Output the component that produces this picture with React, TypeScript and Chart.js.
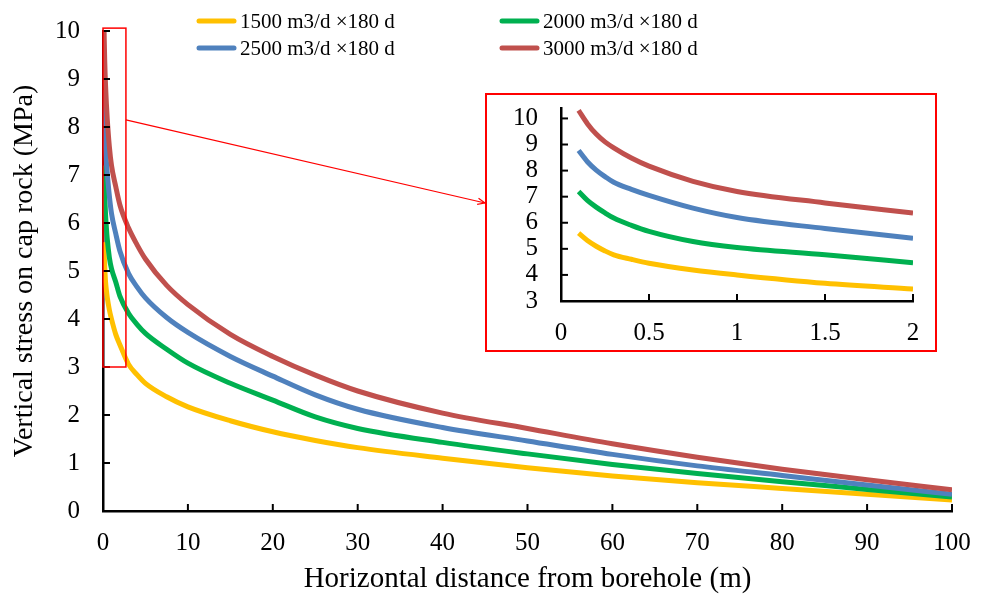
import React, { useEffect, useRef } from "react";
import { Chart, registerables } from "chart.js";

Chart.register(...registerables);

// ---- data ----
const DISTANCE = [0.1, 0.15, 0.2, 0.25, 0.3, 0.4, 0.5, 0.75, 1, 1.5, 2, 3, 4, 5, 7.5, 10, 15, 20, 25, 30, 40, 50, 60, 70, 80, 90, 100];
const STRESS_1500 = [5.6, 5.32, 5.1, 4.92, 4.77, 4.6, 4.45, 4.19, 4.0, 3.68, 3.46, 3.06, 2.84, 2.66, 2.38, 2.17, 1.88, 1.65, 1.47, 1.32, 1.1, 0.9, 0.73, 0.59, 0.47, 0.35, 0.23];
const STRESS_2000 = [7.2, 6.86, 6.6, 6.38, 6.18, 5.9, 5.67, 5.28, 5.05, 4.77, 4.47, 4.12, 3.89, 3.7, 3.37, 3.08, 2.66, 2.31, 1.96, 1.72, 1.43, 1.19, 0.97, 0.78, 0.61, 0.45, 0.29];
const STRESS_2500 = [8.77, 8.34, 8.02, 7.77, 7.55, 7.28, 7.05, 6.56, 6.2, 5.78, 5.41, 4.95, 4.67, 4.44, 4.03, 3.72, 3.22, 2.81, 2.42, 2.12, 1.74, 1.46, 1.18, 0.94, 0.74, 0.54, 0.35];
const STRESS_3000 = [10.31, 9.8, 9.4, 9.1, 8.87, 8.48, 8.17, 7.59, 7.2, 6.76, 6.37, 5.9, 5.55, 5.25, 4.7, 4.3, 3.68, 3.22, 2.83, 2.5, 2.04, 1.72, 1.4, 1.12, 0.87, 0.65, 0.44];
const SERIES_LABELS = ["1500 m3/d ×180 d", "2000 m3/d ×180 d", "2500 m3/d ×180 d", "3000 m3/d ×180 d"];
const SERIES_VALUES = [STRESS_1500, STRESS_2000, STRESS_2500, STRESS_3000];
const SERIES_COLORS = ["#FFC000", "#00B050", "#4F81BD", "#C0504D"];

const X_TITLE = "Horizontal distance from borehole (m)";
const Y_TITLE = "Vertical stress on cap rock (MPa)";

const INSET_X_MAX = 2;
const ZOOM_REGION = { x0: 0, x1: 2.7, y0: 3, y1: 10.06 };
const ARROW_FROM_Y = 8.15;

// ---- layout ----
const FONT = '"Liberation Serif", "Times New Roman", serif';
const INSET_BOX = { left: 485, top: 93, width: 452, height: 259 };
const ARROW_END_Y = 203;
const LEGEND_COLS = [197, 500];
const LEGEND_ROWS = [21, 48];

const insideTicks = {
  id: "insideTicks",
  afterDraw(chart: any) {
    const { ctx, chartArea, scales } = chart;
    const x = scales.x;
    const y = scales.y;
    ctx.save();
    ctx.strokeStyle = "#000";
    ctx.lineWidth = 2;
    x.ticks.forEach((t: any) => {
      if (t.value === x.min) return;
      const px = x.getPixelForValue(t.value);
      ctx.beginPath();
      ctx.moveTo(px, chartArea.bottom);
      ctx.lineTo(px, chartArea.bottom - 7);
      ctx.stroke();
    });
    y.ticks.forEach((t: any) => {
      if (t.value === y.min) return;
      const py = y.getPixelForValue(t.value);
      ctx.beginPath();
      ctx.moveTo(chartArea.left, py);
      ctx.lineTo(chartArea.left + 7, py);
      ctx.stroke();
    });
    ctx.restore();
  },
};

const zoomMarker = {
  id: "zoomMarker",
  afterDraw(chart: any) {
    const { ctx, scales } = chart;
    const x = scales.x;
    const y = scales.y;
    const l = x.getPixelForValue(ZOOM_REGION.x0);
    const r = x.getPixelForValue(ZOOM_REGION.x1);
    const t = y.getPixelForValue(ZOOM_REGION.y1);
    const b = y.getPixelForValue(ZOOM_REGION.y0);
    ctx.save();
    ctx.strokeStyle = "#FF0000";
    ctx.lineWidth = 1.5;
    ctx.strokeRect(l, t, r - l, b - t);
    const sx = r;
    const sy = y.getPixelForValue(ARROW_FROM_Y);
    const ex = INSET_BOX.left;
    const ey = ARROW_END_Y;
    ctx.lineWidth = 1.2;
    ctx.beginPath();
    ctx.moveTo(sx, sy);
    ctx.lineTo(ex, ey);
    ctx.stroke();
    const ang = Math.atan2(ey - sy, ex - sx);
    ctx.beginPath();
    ctx.moveTo(ex, ey);
    ctx.lineTo(ex - 8 * Math.cos(ang - 0.4), ey - 8 * Math.sin(ang - 0.4));
    ctx.moveTo(ex, ey);
    ctx.lineTo(ex - 8 * Math.cos(ang + 0.4), ey - 8 * Math.sin(ang + 0.4));
    ctx.stroke();
    ctx.restore();
  },
};

const customLegend = {
  id: "customLegend",
  afterDraw(chart: any) {
    const { ctx } = chart;
    ctx.save();
    chart.data.datasets.forEach((ds: any, i: number) => {
      const x0 = LEGEND_COLS[i % 2];
      const yy = LEGEND_ROWS[Math.floor(i / 2)];
      ctx.strokeStyle = ds.borderColor;
      ctx.lineWidth = 5;
      ctx.lineCap = "round";
      ctx.beginPath();
      ctx.moveTo(x0 + 2, yy);
      ctx.lineTo(x0 + 37, yy);
      ctx.stroke();
      ctx.fillStyle = "#000";
      ctx.font = `21px ${FONT}`;
      ctx.textAlign = "left";
      ctx.textBaseline = "middle";
      ctx.fillText(ds.label, x0 + 43, yy + 1);
    });
    ctx.restore();
  },
};

function makeDatasets(maxX: number) {
  return SERIES_VALUES.map((vals, i) => ({
    label: SERIES_LABELS[i],
    data: DISTANCE.map((d, j) => ({ x: d, y: vals[j] })).filter((p) => p.x <= maxX),
    borderColor: SERIES_COLORS[i],
    backgroundColor: SERIES_COLORS[i],
    borderWidth: 5,
    pointRadius: 0,
    fill: false,
    cubicInterpolationMode: "monotone" as const,
    order: SERIES_VALUES.length - i,
  }));
}

const tickFont = { family: FONT, size: 25 };
const fitHeight = (h: number) => (s: any) => {
  s.height = h;
  s.paddingLeft = 0;
  s.paddingRight = 0;
};
const fitWidth = (w: number) => (s: any) => {
  s.width = w;
  s.paddingTop = 0;
  s.paddingBottom = 0;
};

export default function App() {
  const mainRef = useRef<HTMLCanvasElement>(null);
  const insetRef = useRef<HTMLCanvasElement>(null);

  useEffect(() => {
    const main = new Chart(mainRef.current as HTMLCanvasElement, {
      type: "line",
      data: { datasets: makeDatasets(Infinity) as any },
      options: {
        responsive: false,
        animation: false,
        layout: { padding: { left: 0, right: 36, top: 31, bottom: 0 } },
        plugins: { legend: { display: false }, tooltip: { enabled: false } },
        scales: {
          x: {
            type: "linear",
            min: 0,
            max: 100,
            ticks: { stepSize: 10, padding: 17, color: "#000", font: tickFont, maxRotation: 0, autoSkip: false },
            grid: { drawOnChartArea: false, drawTicks: false },
            border: { display: true, color: "#000", width: 2.5 },
            title: { display: true, text: X_TITLE, color: "#000", font: { family: FONT, size: 29 }, padding: { top: 1, bottom: 0 } },
            afterFit: fitHeight(86),
          },
          y: {
            type: "linear",
            min: 0,
            max: 10,
            ticks: { stepSize: 1, padding: 23, color: "#000", font: tickFont, autoSkip: false },
            grid: { drawOnChartArea: false, drawTicks: false },
            border: { display: true, color: "#000", width: 2.5 },
            title: { display: true, text: Y_TITLE, color: "#000", font: { family: FONT, size: 28 }, padding: { top: 8, bottom: 0 } },
            afterFit: fitWidth(103),
          },
        },
      } as any,
      plugins: [insideTicks, zoomMarker, customLegend],
    });

    const inset = new Chart(insetRef.current as HTMLCanvasElement, {
      type: "line",
      data: { datasets: makeDatasets(INSET_X_MAX) as any },
      options: {
        responsive: false,
        animation: false,
        layout: { padding: { left: 0, right: 22, top: 13, bottom: 0 } },
        plugins: { legend: { display: false }, tooltip: { enabled: false } },
        scales: {
          x: {
            type: "linear",
            min: 0,
            max: INSET_X_MAX,
            ticks: {
              stepSize: 0.5,
              padding: 17,
              color: "#000",
              font: tickFont,
              maxRotation: 0,
              autoSkip: false,
              callback: (v: any) => String(Number(v)),
            },
            grid: { drawOnChartArea: false, drawTicks: false },
            border: { display: true, color: "#000", width: 2.5 },
            afterFit: fitHeight(49),
          },
          y: {
            type: "linear",
            min: 3,
            max: 10.4,
            ticks: { stepSize: 1, padding: 23, color: "#000", font: tickFont, autoSkip: false, includeBounds: false },
            afterBuildTicks: (s: any) => {
              s.ticks = s.ticks.filter((t: any) => Number.isInteger(t.value));
            },
            grid: { drawOnChartArea: false, drawTicks: false },
            border: { display: true, color: "#000", width: 2.5 },
            afterFit: fitWidth(74),
          },
        },
      } as any,
      plugins: [insideTicks],
    });

    return () => {
      main.destroy();
      inset.destroy();
    };
  }, []);

  return (
    <div style={{ position: "absolute", left: 0, top: 0, width: 988, height: 597, background: "#fff" }}>
      <canvas ref={mainRef} width={988} height={597} style={{ position: "absolute", left: 0, top: 0, display: "block" }} />
      <div
        style={{
          position: "absolute",
          left: INSET_BOX.left,
          top: INSET_BOX.top,
          width: INSET_BOX.width,
          height: INSET_BOX.height,
          border: "2px solid #FF0000",
          boxSizing: "border-box",
          background: "#fff",
        }}
      >
        <canvas ref={insetRef} width={INSET_BOX.width - 4} height={INSET_BOX.height - 4} style={{ display: "block" }} />
      </div>
    </div>
  );
}
